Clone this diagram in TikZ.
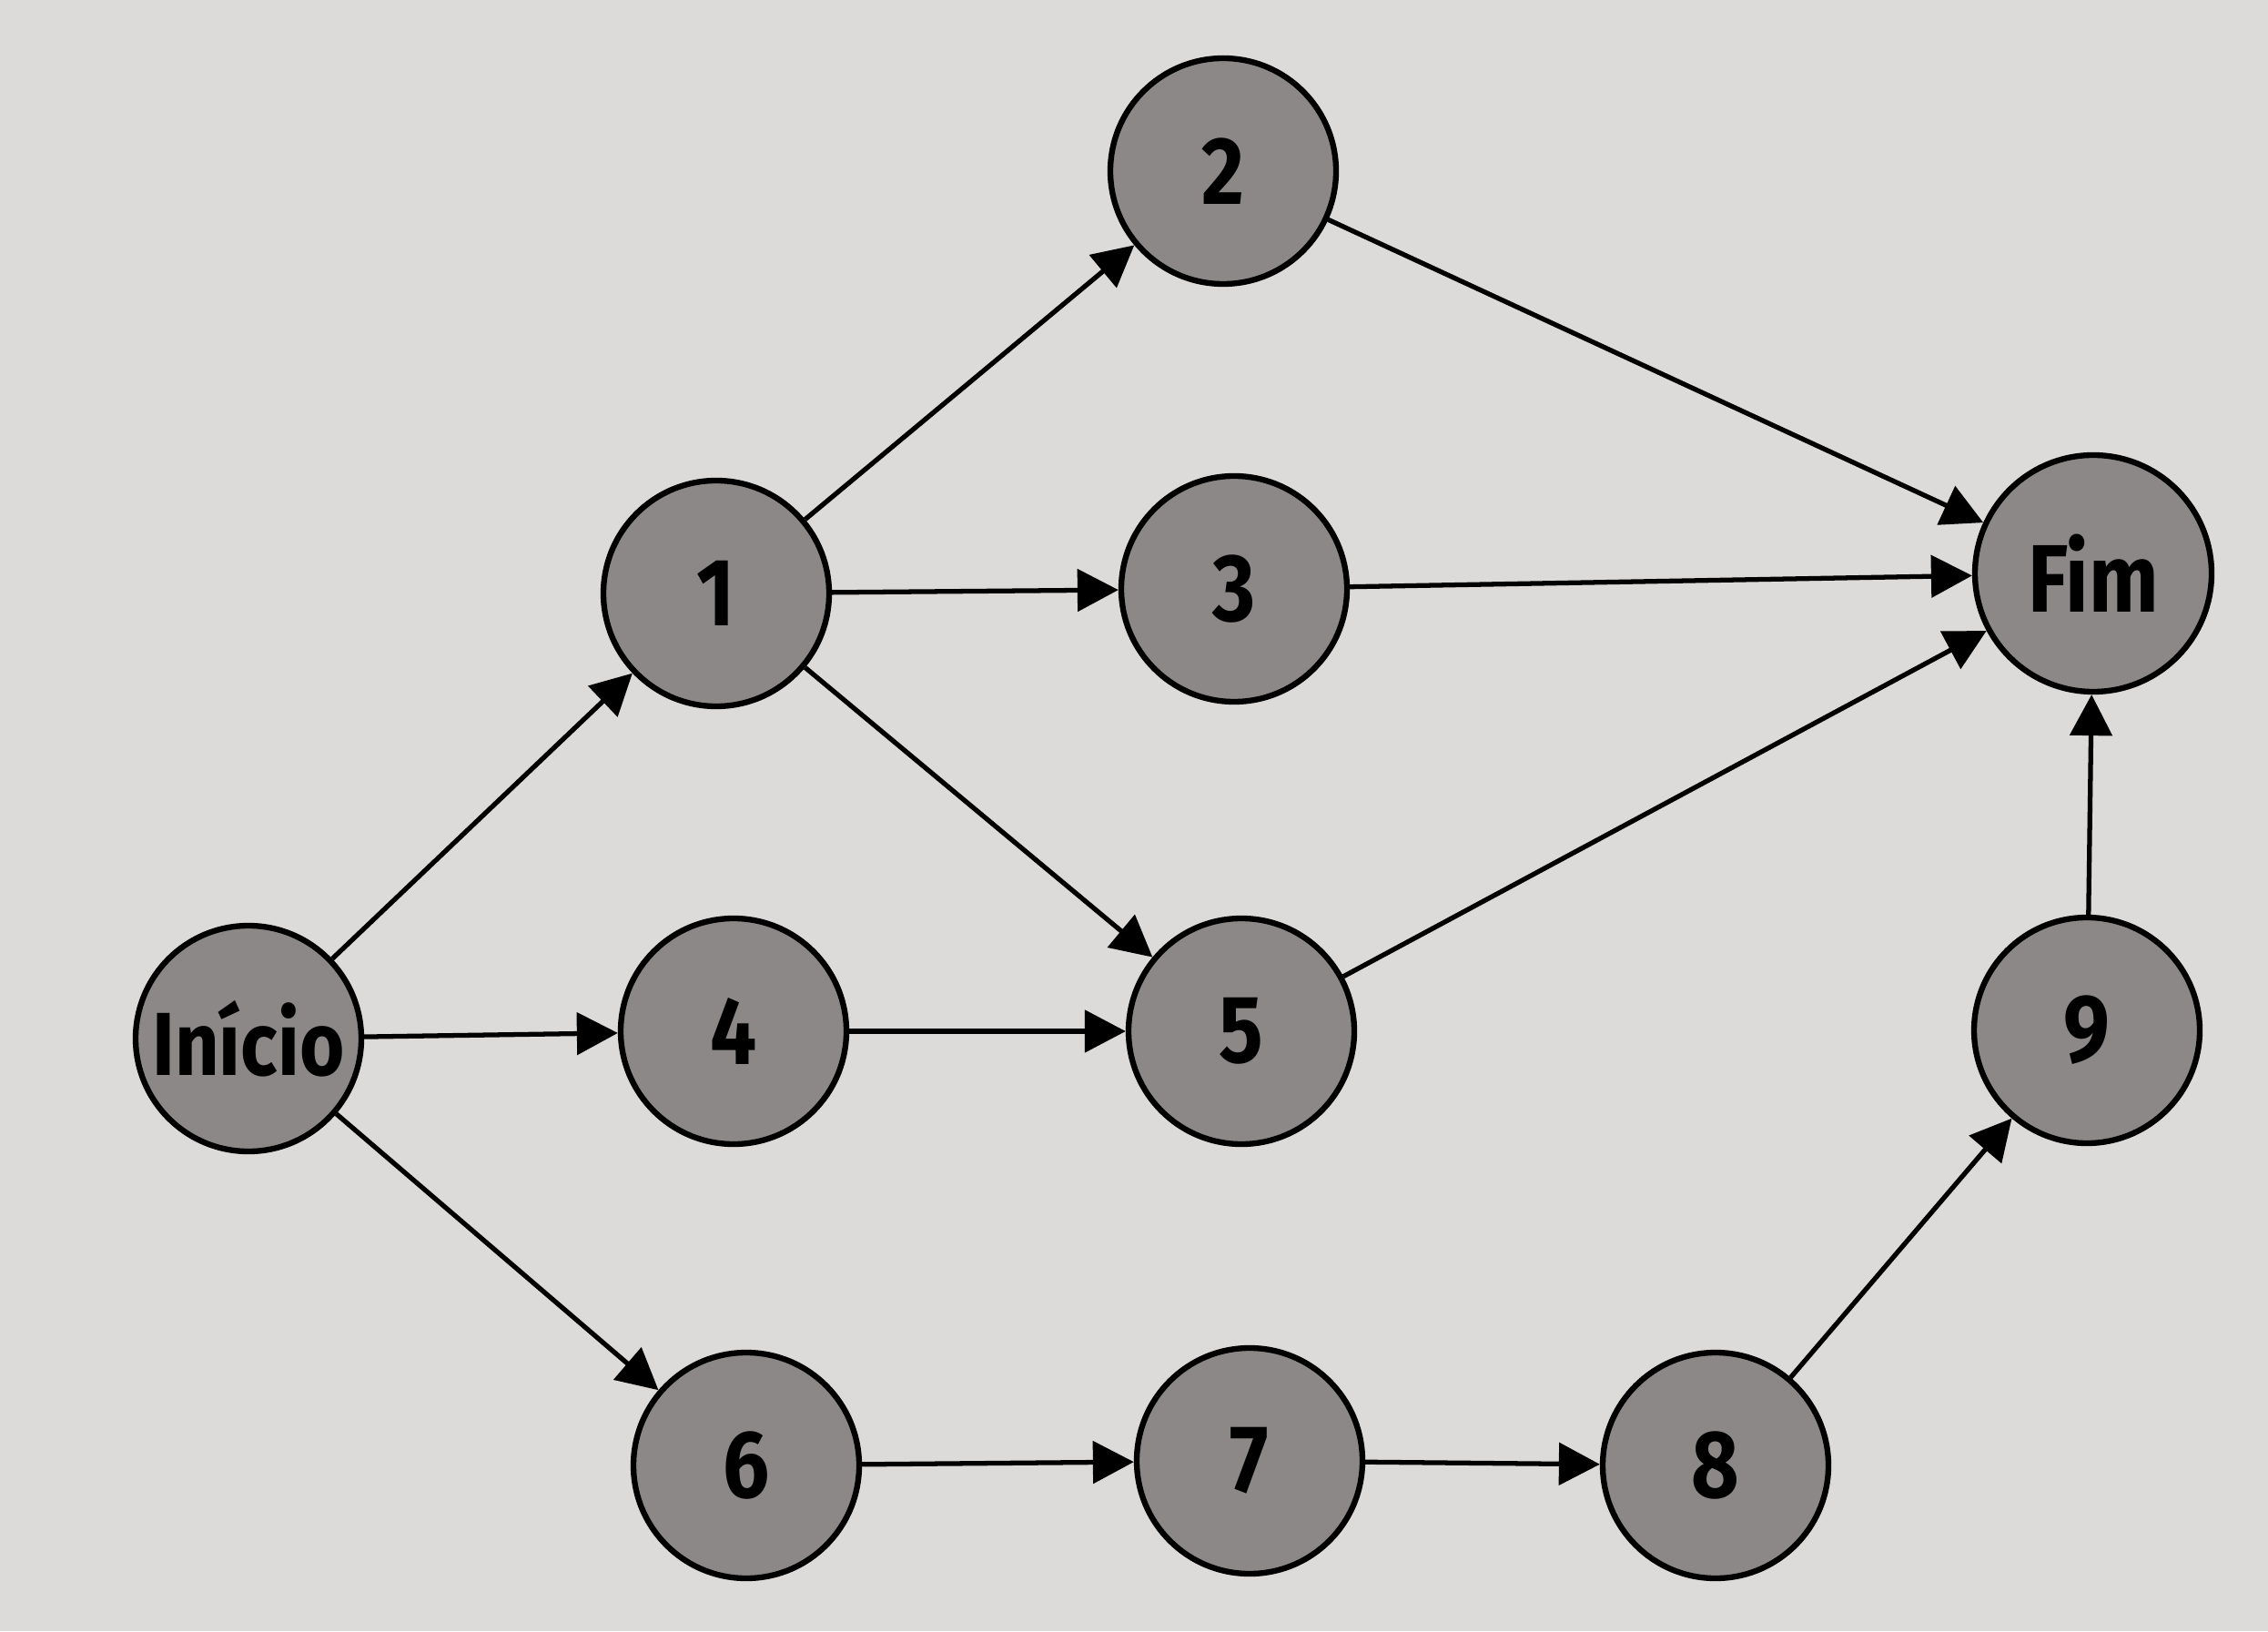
\documentclass[tikz,border=0pt]{standalone}
\usepackage{fontspec}
\setmainfont{Fira Sans}
\newfontfamily\condfont{Fira Sans}[FakeStretch=0.9, BoldFeatures={FakeStretch=0.86}]
\usetikzlibrary{arrows.meta}
\definecolor{paper}{HTML}{DDDBD9}
\definecolor{nodegray}{HTML}{8C8887}
\tikzset{
  ev/.style={circle, draw=black, line width=1.8pt, fill=nodegray, minimum size=2.48cm, inner sep=0pt, font=\fontsize{30}{36}\condfont\bfseries},
  link/.style={line width=1.5pt, -{Triangle[length=0.45cm,width=0.46cm]}}
}
\begin{document}
\begin{tikzpicture}
\fill[paper] (0,0) rectangle (24.92,17.92);
\useasboundingbox (0,0) rectangle (24.92,17.92);
\node[ev, font=\fontsize{28}{34}\condfont\bfseries] (ini) at (2.73,6.51) {Início};
\node[ev] (n1) at (7.87,11.40) {1};
\node[ev] (n2) at (13.44,16.04) {2};
\node[ev] (n3) at (13.56,11.45) {3};
\node[ev, minimum size=2.6cm] (fim) at (23.00,11.62) {Fim};
\node[ev] (n4) at (8.06,6.59) {4};
\node[ev] (n5) at (13.64,6.59) {5};
\node[ev] (n9) at (22.93,6.60) {9};
\node[ev] (n6) at (8.20,1.82) {6};
\node[ev] (n7) at (13.73,1.87) {7};
\node[ev] (n8) at (18.85,1.82) {8};
\draw[link] (ini) -- (n1);
\draw[link] (ini) -- (n4);
\draw[link] (ini) -- (n6);
\draw[link] (n1) -- (n2);
\draw[link] (n1) -- (n3);
\draw[link] (n1) -- (n5);
\draw[link] (n2) -- (fim);
\draw[link] (n3) -- (fim);
\draw[link] (n5) -- (fim);
\draw[link] (n4) -- (n5);
\draw[link] (n6) -- (n7);
\draw[link] (n7) -- (n8);
\draw[link] (n8) -- (n9);
\draw[link] (n9) -- (fim);
\end{tikzpicture}
\end{document}
